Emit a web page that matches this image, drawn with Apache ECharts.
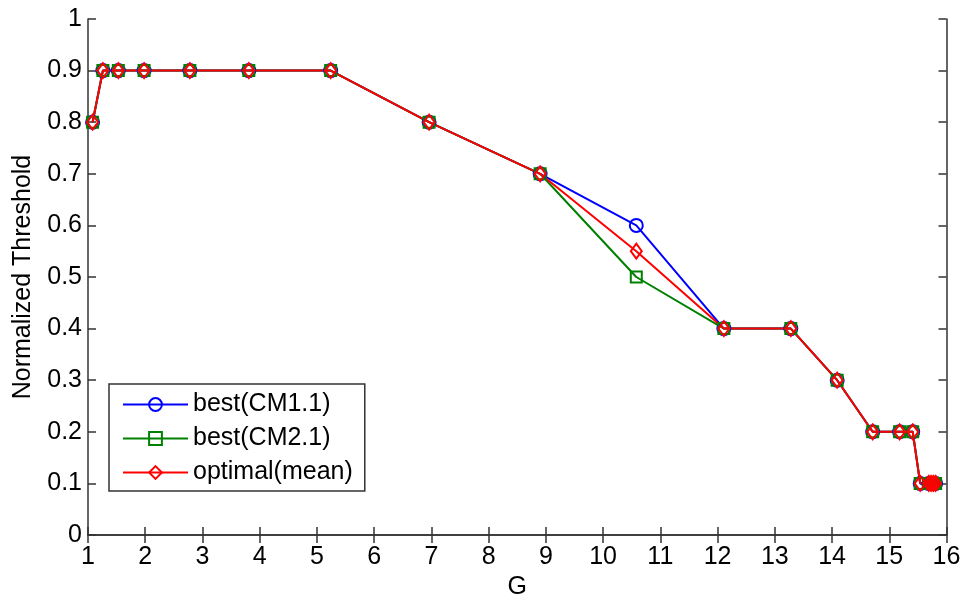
<!DOCTYPE html>
<html>
<head>
<meta charset="utf-8">
<script src="https://cdn.jsdelivr.net/npm/echarts@6/dist/echarts.min.js"></script>
<style>
  html, body { margin: 0; padding: 0; background: #fff; }
  #chart { width: 965px; height: 601px; }
</style>
</head>
<body>
<div id="chart"></div>
<script>
// G positions of each evaluated point
const gValues = [1.08, 1.26, 1.53, 1.98, 2.78, 3.81, 5.24, 6.96, 8.90, 10.58, 12.11,
                 13.28, 14.09, 14.71, 15.18, 15.41, 15.54, 15.69, 15.73, 15.77, 15.81];
// Normalized threshold per method
const bestCM11 = [0.8, 0.9, 0.9, 0.9, 0.9, 0.9, 0.9, 0.8, 0.7, 0.6, 0.4,
                  0.4, 0.3, 0.2, 0.2, 0.2, 0.1, 0.1, 0.1, 0.1, 0.1];
const bestCM21 = [0.8, 0.9, 0.9, 0.9, 0.9, 0.9, 0.9, 0.8, 0.7, 0.5, 0.4,
                  0.4, 0.3, 0.2, 0.2, 0.2, 0.1, 0.1, 0.1, 0.1, 0.1];
const optimalMean = [0.8, 0.9, 0.9, 0.9, 0.9, 0.9, 0.9, 0.8, 0.7, 0.55, 0.4,
                     0.4, 0.3, 0.2, 0.2, 0.2, 0.1, 0.1, 0.1, 0.1, 0.1];
const seriesNames = ['best(CM1.1)', 'best(CM2.1)', 'optimal(mean)'];
const xTicks = {min: 1, max: 16, interval: 1};
const yTicks = {min: 0, max: 1, interval: 0.1};

const FONT = 'Liberation Sans, Arial, sans-serif';
const FONT_SIZE = 25;
const AXIS_COLOR = '#333';

function pairs(ys) { return gValues.map((g, i) => [g, ys[i]]); }

function lineSeries(name, ys, color, symbol, size) {
  return {
    name: name,
    type: 'line',
    data: pairs(ys),
    symbol: symbol,
    symbolSize: size,
    showAllSymbol: true,
    lineStyle: { color: color, width: 2 },
    itemStyle: { color: 'rgba(255,255,255,0)', borderColor: color, borderWidth: 2 },
    emphasis: { disabled: true },
    animation: false
  };
}

const chart = echarts.init(document.getElementById('chart'), null, { renderer: 'canvas' });

const baseAxis = {
  axisLine: { show: true, lineStyle: { color: AXIS_COLOR, width: 1.5 } },
  axisTick: { show: true, inside: true, length: 8, lineStyle: { color: AXIS_COLOR, width: 1.5 } },
  splitLine: { show: false }
};

chart.setOption({
  backgroundColor: '#fff',
  animation: false,
  grid: { left: 88, right: 18.5, top: 19, bottom: 66, containLabel: false, outerBoundsMode: 'none' },
  xAxis: [
    Object.assign({}, baseAxis, {
      type: 'value', position: 'bottom',
      min: xTicks.min, max: xTicks.max, interval: xTicks.interval,
      name: 'G', nameLocation: 'middle', nameGap: 38,
      nameTextStyle: { fontFamily: FONT, fontSize: FONT_SIZE, color: '#000' },
      axisLabel: { fontFamily: FONT, fontSize: FONT_SIZE, color: '#000', margin: 10 }
    }),
    Object.assign({}, baseAxis, {
      type: 'value', position: 'top',
      min: xTicks.min, max: xTicks.max, interval: xTicks.interval,
      axisLabel: { show: false }
    })
  ],
  yAxis: [
    Object.assign({}, baseAxis, {
      type: 'value', position: 'left',
      min: yTicks.min, max: yTicks.max, interval: yTicks.interval,
      name: 'Normalized Threshold', nameLocation: 'middle', nameGap: 52,
      nameTextStyle: { fontFamily: FONT, fontSize: FONT_SIZE, color: '#000' },
      axisLabel: {
        fontFamily: FONT, fontSize: FONT_SIZE, color: '#000', margin: 6,
        formatter: v => (Math.round(v * 10) / 10).toString()
      }
    }),
    Object.assign({}, baseAxis, {
      type: 'value', position: 'right',
      min: yTicks.min, max: yTicks.max, interval: yTicks.interval,
      axisLabel: { show: false }
    })
  ],
  legend: {
    orient: 'vertical',
    left: 109, top: 384,
    data: seriesNames,
    itemWidth: 65, itemHeight: 16, itemGap: 9,
    padding: [8, 12, 6, 13],
    borderColor: AXIS_COLOR, borderWidth: 1.5,
    backgroundColor: '#fff',
    textStyle: { fontFamily: FONT, fontSize: FONT_SIZE, color: '#000' },
    selectedMode: false
  },
  series: [
    lineSeries(seriesNames[0], bestCM11, '#0000ff', 'circle', 13),
    lineSeries(seriesNames[1], bestCM21, '#008000', 'rect', 11),
    lineSeries(seriesNames[2], optimalMean, '#ff0000', 'diamond', [11, 15])
  ]
});
</script>
</body>
</html>
